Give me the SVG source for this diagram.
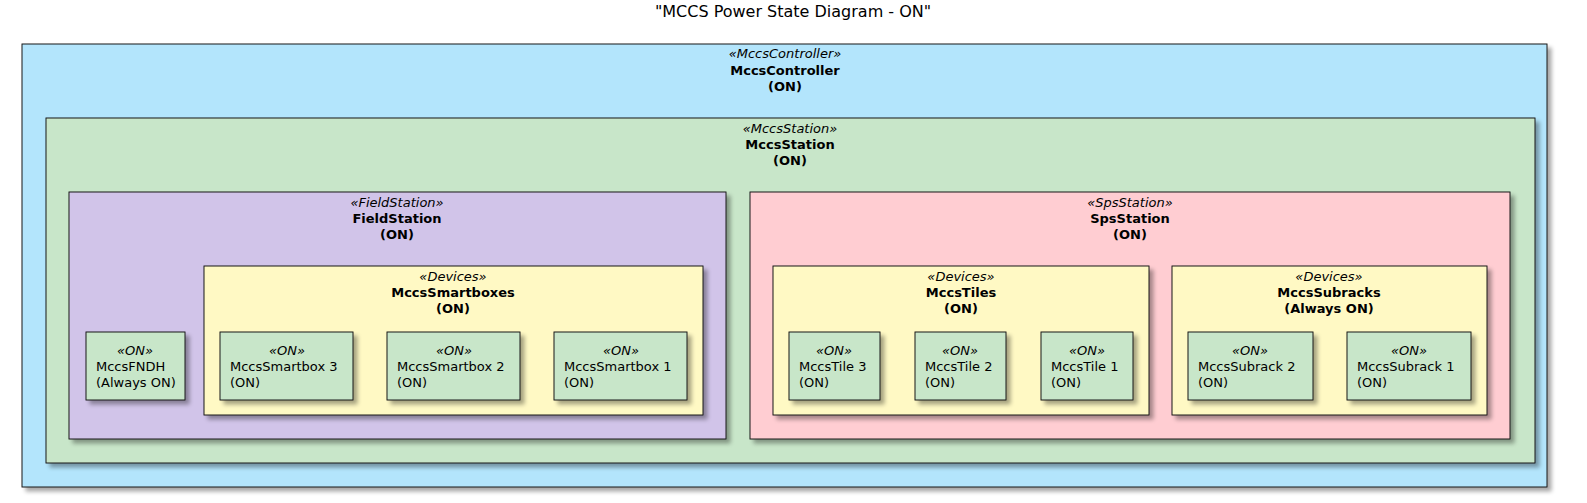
<svg xmlns="http://www.w3.org/2000/svg" width="1587" height="503" viewBox="0 0 1587 503">
<style>
text{font-family:"DejaVu Sans",sans-serif;font-size:13px;fill:#000}
.st{font-style:italic;text-anchor:middle}
.nm{font-weight:bold;text-anchor:middle}
.c{text-anchor:middle}
rect{stroke:#181818;stroke-width:1;filter:url(#sh)}
.ctl{fill:#B3E5FC}.sta{fill:#C8E6C9}.fs{fill:#D1C4E9}.sps{fill:#FFCDD2}.dev{fill:#FFF9C4}.on{fill:#C8E6C9}
</style>
<defs><filter id="sh" x="-5%" y="-5%" width="115%" height="120%"><feGaussianBlur in="SourceAlpha" stdDeviation="2"/><feOffset dx="4" dy="4"/><feComponentTransfer><feFuncA type="linear" slope="0.35"/></feComponentTransfer><feMerge><feMergeNode/><feMergeNode in="SourceGraphic"/></feMerge></filter></defs>
<rect width="1587" height="503" fill="#fff" style="stroke:none;filter:none"/>
<text x="793" y="17" class="c" style="font-size:16px">"MCCS Power State Diagram - ON"</text>
<g id="MccsController"><rect class="ctl" x="22" y="44" width="1525" height="443"/>
<text x="785" y="58" class="st">«MccsController»</text><text x="785" y="75" class="nm">MccsController</text><text x="785" y="91" class="nm">(ON)</text></g>
<g id="MccsStation"><rect class="sta" x="46" y="118" width="1489" height="345"/>
<text x="790" y="133" class="st">«MccsStation»</text><text x="790" y="149" class="nm">MccsStation</text><text x="790" y="165" class="nm">(ON)</text></g>
<g id="FieldStation"><rect class="fs" x="69" y="192" width="657" height="247"/>
<text x="397" y="207" class="st">«FieldStation»</text><text x="397" y="223" class="nm">FieldStation</text><text x="397" y="239" class="nm">(ON)</text></g>
<g id="SpsStation"><rect class="sps" x="750" y="192" width="760" height="247"/>
<text x="1130" y="207" class="st">«SpsStation»</text><text x="1130" y="223" class="nm">SpsStation</text><text x="1130" y="239" class="nm">(ON)</text></g>
<g id="MccsSmartboxes"><rect class="dev" x="204" y="266" width="499" height="149"/>
<text x="453" y="281" class="st">«Devices»</text><text x="453" y="297" class="nm">MccsSmartboxes</text><text x="453" y="313" class="nm">(ON)</text></g>
<g id="MccsTiles"><rect class="dev" x="773" y="266" width="376" height="149"/>
<text x="961" y="281" class="st">«Devices»</text><text x="961" y="297" class="nm">MccsTiles</text><text x="961" y="313" class="nm">(ON)</text></g>
<g id="MccsSubracks"><rect class="dev" x="1172" y="266" width="315" height="149"/>
<text x="1329" y="281" class="st">«Devices»</text><text x="1329" y="297" class="nm">MccsSubracks</text><text x="1329" y="313" class="nm">(Always ON)</text></g>
<g id="MccsFNDH"><rect class="on" x="86" y="332" width="99" height="68"/><text x="135" y="355" class="st">«ON»</text><text x="96" y="371">MccsFNDH</text><text x="96" y="387">(Always ON)</text></g>
<g id="MccsSmartbox3"><rect class="on" x="220" y="332" width="133" height="68"/><text x="287" y="355" class="st">«ON»</text><text x="230" y="371">MccsSmartbox 3</text><text x="230" y="387">(ON)</text></g>
<g id="MccsSmartbox2"><rect class="on" x="387" y="332" width="133" height="68"/><text x="454" y="355" class="st">«ON»</text><text x="397" y="371">MccsSmartbox 2</text><text x="397" y="387">(ON)</text></g>
<g id="MccsSmartbox1"><rect class="on" x="554" y="332" width="133" height="68"/><text x="621" y="355" class="st">«ON»</text><text x="564" y="371">MccsSmartbox 1</text><text x="564" y="387">(ON)</text></g>
<g id="MccsTile3"><rect class="on" x="789" y="332" width="91" height="68"/><text x="834" y="355" class="st">«ON»</text><text x="799" y="371">MccsTile 3</text><text x="799" y="387">(ON)</text></g>
<g id="MccsTile2"><rect class="on" x="915" y="332" width="91" height="68"/><text x="960" y="355" class="st">«ON»</text><text x="925" y="371">MccsTile 2</text><text x="925" y="387">(ON)</text></g>
<g id="MccsTile1"><rect class="on" x="1041" y="332" width="92" height="68"/><text x="1087" y="355" class="st">«ON»</text><text x="1051" y="371">MccsTile 1</text><text x="1051" y="387">(ON)</text></g>
<g id="MccsSubrack2"><rect class="on" x="1188" y="332" width="125" height="68"/><text x="1250" y="355" class="st">«ON»</text><text x="1198" y="371">MccsSubrack 2</text><text x="1198" y="387">(ON)</text></g>
<g id="MccsSubrack1"><rect class="on" x="1347" y="332" width="124" height="68"/><text x="1409" y="355" class="st">«ON»</text><text x="1357" y="371">MccsSubrack 1</text><text x="1357" y="387">(ON)</text></g>
<g id="connectors"/>
</svg>
